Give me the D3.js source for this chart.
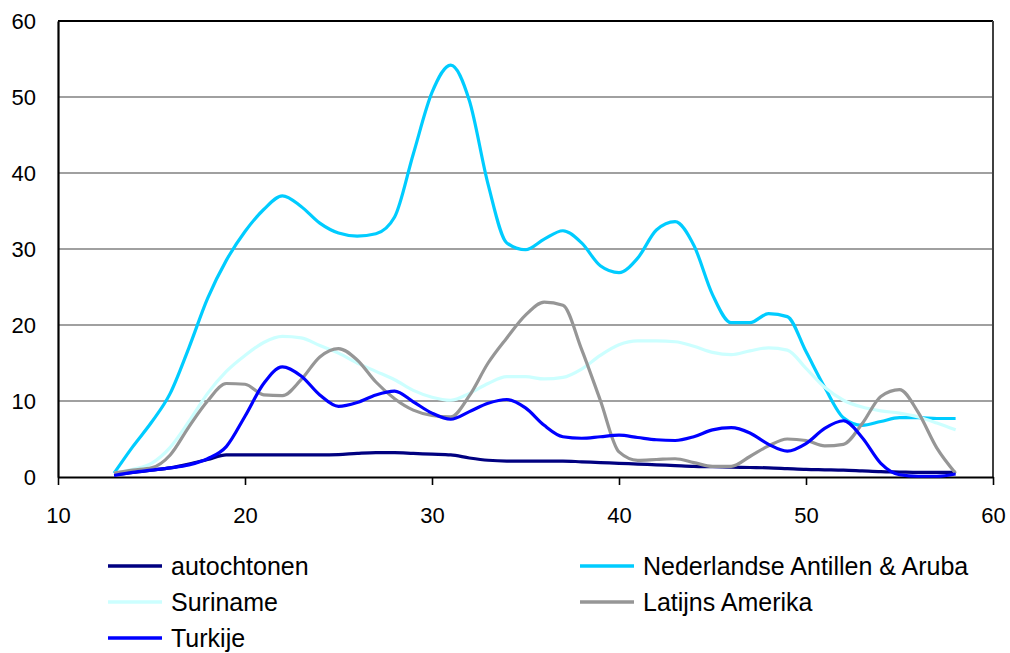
<!DOCTYPE html>
<html>
<head>
<meta charset="utf-8">
<script src="https://cdn.jsdelivr.net/npm/d3@7"></script>
<style>
  html, body { margin: 0; padding: 0; background: #fff; }
  svg { display: block; font-family: "Liberation Sans", Arial, sans-serif; }
</style>
</head>
<body>
<svg id="chart" width="1010" height="653"></svg>
<script>
// ---- data ----
const ages = d3.range(13, 59); // 13..58
const autochtonen = [0.3,0.6,0.9,1.2,1.7,2.3,2.9,2.9,2.9,2.9,2.9,2.9,2.95,3.1,3.2,3.2,3.1,3.0,2.9,2.5,2.2,2.1,2.1,2.1,2.1,2.0,1.9,1.8,1.7,1.6,1.5,1.4,1.35,1.3,1.25,1.2,1.1,1.0,0.95,0.9,0.8,0.7,0.65,0.6,0.6,0.6];
const antillen = [0.5,4.0,7.2,11.0,17.0,23.5,28.5,32.3,35.2,37.0,35.6,33.4,32.1,31.7,32.0,34.2,42.5,50.6,54.2,49.5,38.5,30.8,29.9,31.3,32.4,30.8,27.8,26.9,28.8,32.5,33.6,30.5,24.0,20.3,20.3,21.5,21.1,16.5,11.8,7.8,6.8,7.3,7.8,7.8,7.7,7.7];
const suriname = [0.5,1.0,1.8,3.9,7.3,11.0,13.9,16.0,17.7,18.5,18.3,17.3,16.3,15.0,13.9,12.8,11.4,10.5,10.1,11.0,12.3,13.2,13.2,12.9,13.1,14.2,16.0,17.4,17.9,17.9,17.8,17.2,16.4,16.1,16.6,17.0,16.7,14.3,11.8,10.1,9.2,8.7,8.4,7.9,7.1,6.2];
const latijns = [0.5,0.9,1.2,2.9,6.6,10.0,12.3,12.2,10.8,10.7,12.8,15.8,16.9,15.4,12.5,10.3,8.8,8.1,7.9,10.7,15.0,18.3,21.3,23.0,22.6,16.8,10.1,3.3,2.2,2.3,2.4,1.9,1.4,1.4,2.7,4.1,5.0,4.8,4.1,4.3,7.0,10.6,11.5,8.5,3.8,0.5];
const turkije = [0.2,0.6,0.9,1.2,1.6,2.4,4.0,8.0,12.3,14.5,13.3,10.8,9.3,9.8,10.8,11.3,9.9,8.4,7.6,8.6,9.7,10.2,9.1,6.8,5.3,5.1,5.3,5.5,5.2,4.9,4.8,5.3,6.2,6.5,5.8,4.3,3.4,4.4,6.4,7.4,5.2,1.8,0.3,0.1,0.1,0.4];

const seriesNames = ["autochtonen","Nederlandse Antillen & Aruba","Suriname","Latijns Amerika","Turkije"];
const seriesValues = [autochtonen, antillen, suriname, latijns, turkije];
const seriesColors = ["#000080","#00CCFF","#CCFFFF","#969696","#0000FF"];

const xTicks = [10,20,30,40,50,60];
const yTicks = [0,10,20,30,40,50,60];

// ---- layout ----
const svg = d3.select("#chart");
const plotLeft = 58, plotRight = 993, plotTop = 21, plotBottom = 477;

const x = d3.scaleLinear().domain([10, 60]).range([plotLeft, plotRight]);
const y = d3.scaleLinear().domain([0, 60]).range([plotBottom, plotTop]);

// gridlines
svg.append("g")
  .selectAll("line")
  .data(yTicks.filter(d => d > 0 && d < 60))
  .join("line")
  .attr("x1", plotLeft).attr("x2", plotRight)
  .attr("y1", d => y(d)).attr("y2", d => y(d))
  .attr("stroke", "#808080").attr("stroke-width", 1.6);

// frame: top and right
svg.append("line").attr("x1", plotLeft).attr("x2", plotRight).attr("y1", plotTop).attr("y2", plotTop)
  .attr("stroke", "#000").attr("stroke-width", 2);
svg.append("line").attr("x1", plotRight).attr("x2", plotRight).attr("y1", plotTop).attr("y2", plotBottom)
  .attr("stroke", "#404040").attr("stroke-width", 2);

// y axis
const yAxis = d3.axisLeft(y).tickValues(yTicks).tickSize(0).tickPadding(22).tickFormat(d3.format("d"));
const gy = svg.append("g").attr("transform", `translate(${plotLeft},0)`).call(yAxis);
gy.select(".domain").attr("stroke", "#000").attr("stroke-width", 2.2);
gy.selectAll("text").attr("font-size", 22).attr("font-family", "Liberation Sans, Arial, sans-serif").attr("fill", "#000");

// x axis
const xAxis = d3.axisBottom(x).tickValues(xTicks).tickSize(8).tickSizeOuter(0).tickPadding(22).tickFormat(d3.format("d"));
const gx = svg.append("g").attr("transform", `translate(0,${plotBottom})`).call(xAxis);
gx.select(".domain").attr("stroke", "#000").attr("stroke-width", 2.2);
gx.selectAll(".tick line").attr("stroke", "#000").attr("stroke-width", 1.6);
gx.selectAll("text").attr("font-size", 22).attr("font-family", "Liberation Sans, Arial, sans-serif").attr("fill", "#000");

// lines
const line = d3.line()
  .x((d, i) => x(ages[i]))
  .y(d => y(d))
  .curve(d3.curveMonotoneX);

svg.append("g")
  .selectAll("path")
  .data(seriesValues)
  .join("path")
  .attr("d", d => line(d))
  .attr("fill", "none")
  .attr("stroke", (d, i) => seriesColors[i])
  .attr("stroke-width", 3.2)
  .attr("stroke-linejoin", "round");

// legend
const legendPos = [[108, 566], [580, 566], [108, 602], [580, 602], [108, 638]];
const lg = svg.append("g");
seriesNames.forEach((name, i) => {
  const [lx, ly] = legendPos[i];
  lg.append("line")
    .attr("x1", lx).attr("x2", lx + 54)
    .attr("y1", ly).attr("y2", ly)
    .attr("stroke", seriesColors[i]).attr("stroke-width", 3.5);
  lg.append("text")
    .attr("x", lx + 63).attr("y", ly + 9)
    .attr("font-size", 25)
    .attr("fill", "#000")
    .text(name);
});
</script>
</body>
</html>
